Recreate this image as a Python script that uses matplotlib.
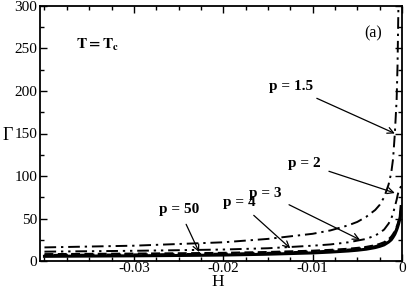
import matplotlib
matplotlib.use("Agg")
import matplotlib.pyplot as plt
from matplotlib.ticker import MultipleLocator

plt.rcParams['font.family'] = ['Liberation Serif', 'DejaVu Serif']
plt.rcParams['mathtext.fontset'] = 'stix'

# Data
H = [-0.04, -0.035, -0.03, -0.025, -0.02, -0.015, -0.01, -0.008, -0.006, -0.005,
     -0.004, -0.003, -0.0025, -0.002, -0.0015, -0.0012, -0.001, -0.0008, -0.0006,
     -0.0005, -0.0004, -0.0003, -0.0002, -0.0001]
g_p15 = [16, 17, 18, 20, 22, 26, 32, 36, 42, 46, 52, 60, 66, 75, 90, 104, 120, 150,
         190, 230, 300, 380, 480, 600]
g_p2 = [11, 11.5, 12, 12.7, 13.5, 15, 18, 19.5, 22, 24, 26, 30, 33, 37, 44, 50, 56,
        64, 72, 77, 81, 84, 86, 88]
g_p3 = [8, 8.3, 8.6, 9, 9.5, 10.5, 12, 13, 14.3, 15.3, 16.5, 18.5, 20, 22, 25.5,
        28.5, 31.5, 35, 40, 43, 46, 50, 54, 60]
g_p4 = [7, 7.3, 7.6, 8, 8.5, 9.5, 11, 12, 13.3, 14.2, 15.4, 17.3, 18.8, 20.7, 24,
        27, 30, 33.5, 38.5, 41.5, 45, 49, 53, 60]
g_p50 = [5.5, 5.8, 6.1, 6.5, 7, 8, 9.5, 10.5, 11.8, 12.7, 13.9, 15.8, 17.2, 19,
         22.3, 25, 28, 31.5, 36.5, 39.5, 43, 47, 52, 64]

labels = ["p = 1.5", "p = 2", "p = 3", "p = 4", "p = 50"]
label_pos = [(-0.0124, 205), (-0.0109, 115), (-0.0153, 80), (-0.0182, 69), (-0.0249, 60)]
arrow_tip = [(-0.0008, 150), (-0.0008, 80), (-0.0047, 25), (-0.0125, 15), (-0.0227, 10.5)]

fig = plt.figure(figsize=(4.09, 2.90), dpi=100)
ax = fig.add_axes([40/409, 29/290, 362/409, 255/290])

ax.plot(H, g_p15, color='black', lw=1.4, dashes=(6, 2.5, 1.2, 2.5))
ax.plot(H, g_p2, color='black', lw=1.4, dashes=(6, 2.5, 1.2, 2.5, 1.2, 2.5))
ax.plot(H, g_p3, color='black', lw=1.6, dashes=(4, 2))
ax.plot(H, g_p4, color='black', lw=1.6, dashes=(2.5, 1.5))
ax.plot(H, g_p50, color='black', lw=2.2)

for lab, (tx, ty), (hx, hy) in zip(labels, label_pos, arrow_tip):
    ax.annotate(lab, xy=(hx, hy), xytext=(tx, ty), ha='center', va='center',
                fontsize=11, fontweight='bold',
                arrowprops=dict(arrowstyle='->', color='black', lw=0.9,
                                shrinkA=4, shrinkB=0))

ax.text(-0.0365, 254, r'$\mathbf{T = T_c}$', fontsize=11, ha='left', va='center')
ax.text(-0.0032, 268, '(a)', fontsize=11.5, ha='center', va='center')

ax.set_xlim(-0.0405, 0)
ax.set_ylim(0, 300)
ax.set_xticks([-0.03, -0.02, -0.01, 0])
ax.set_xticklabels(['-0.03', '-0.02', '-0.01', '0'])
ax.xaxis.set_minor_locator(MultipleLocator(0.0025))
ax.yaxis.set_major_locator(MultipleLocator(50))
ax.yaxis.set_minor_locator(MultipleLocator(25))
ax.tick_params(which='both', direction='in', top=True, right=True, labelsize=11,
               width=1.0, pad=2)
ax.tick_params(axis='x', pad=1)
ax.tick_params(which='major', length=5)
ax.tick_params(which='minor', length=3)
for s in ax.spines.values():
    s.set_linewidth(1.3)

fig.text(218/409, 1 - 286.5/290, 'H', fontsize=12.5, ha='center', va='baseline')
fig.text(8/409, 1 - 136/290, 'Γ', fontsize=13, ha='center', va='center')

fig.savefig('out.png', dpi=100)
